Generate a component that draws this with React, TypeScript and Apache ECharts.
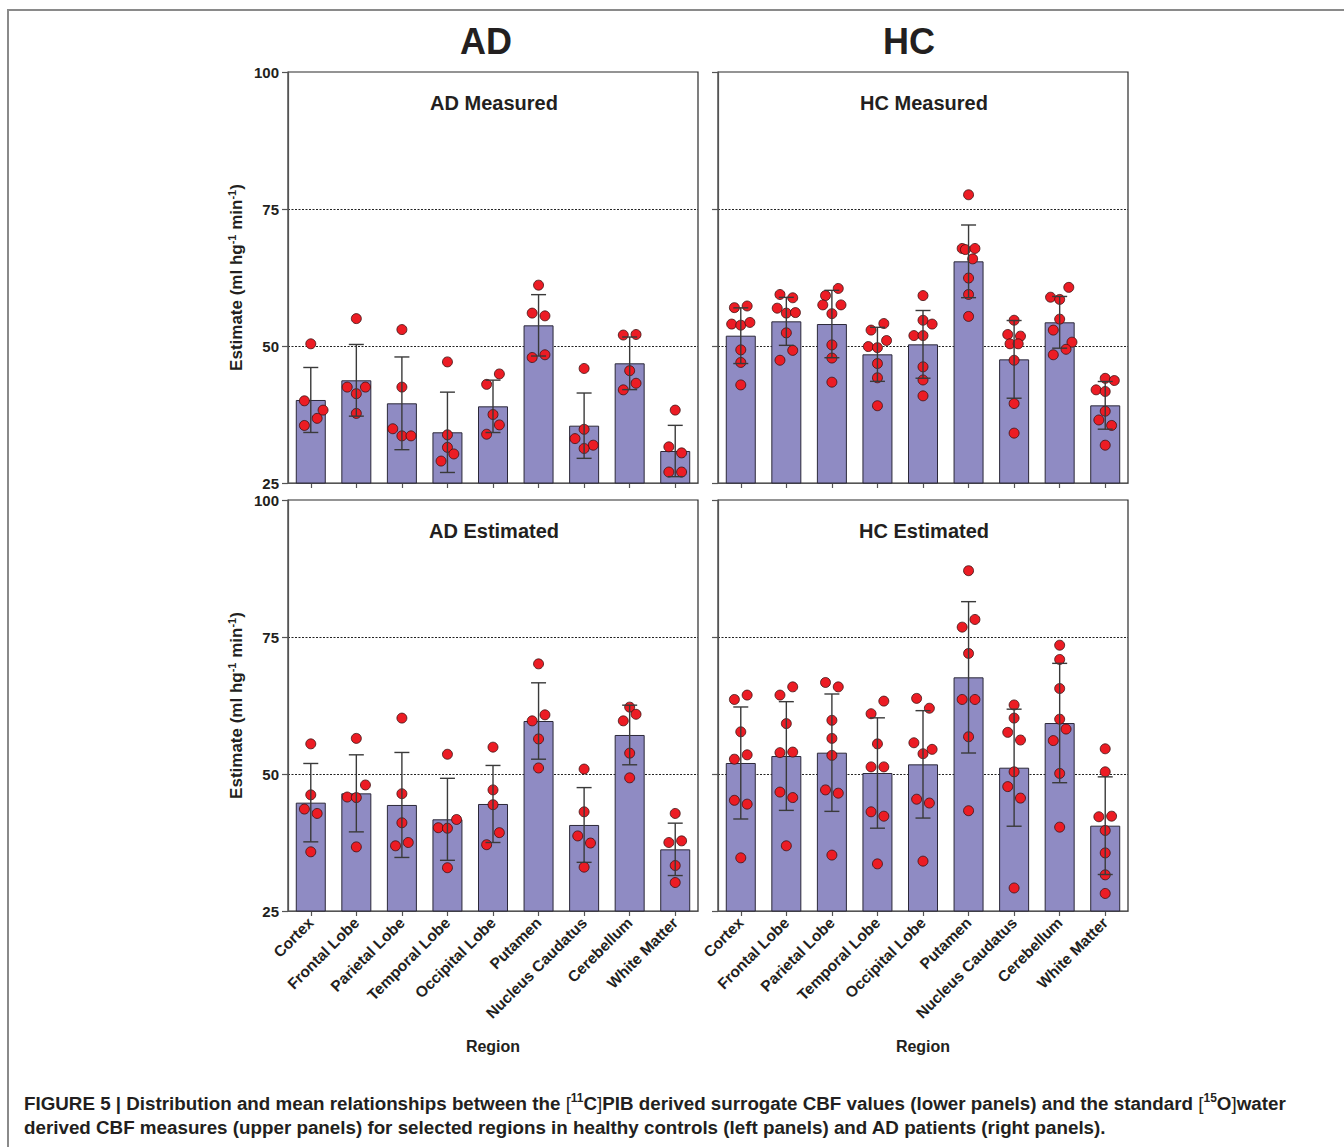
import React, { useEffect, useRef } from "react";
import * as echarts from "echarts";

// ---------- DATA ----------
const REGIONS = [
  "Cortex",
  "Frontal Lobe",
  "Parietal Lobe",
  "Temporal Lobe",
  "Occipital Lobe",
  "Putamen",
  "Nucleus Caudatus",
  "Cerebellum",
  "White Matter",
];
const Y_TICKS = [25, 50, 75, 100];

// AD Measured
const adMeasuredMean = [40.15, 43.74, 39.54, 34.25, 38.99, 53.77, 35.46, 46.84, 30.84];
const adMeasuredSD = [5.93, 6.54, 8.46, 7.33, 4.78, 5.6, 5.96, 4.8, 4.68];
const adMeasuredPoints = [
  [50.4, 40.0, 38.3, 36.8, 35.5],
  [55.0, 42.5, 42.5, 41.3, 37.7],
  [53.0, 42.5, 34.9, 33.6, 33.6],
  [47.1, 33.8, 31.5, 30.3, 29.0],
  [44.9, 43.0, 37.5, 35.6, 33.9],
  [61.1, 56.0, 55.5, 48.4, 47.9],
  [45.9, 34.8, 33.1, 31.9, 31.3],
  [52.0, 52.1, 45.5, 43.2, 42.0],
  [38.3, 31.6, 30.5, 27.0, 27.0],
];
const adMeasuredJitter = [
  [0, -0.14, 0.27, 0.14, -0.14],
  [0, -0.2, 0.2, 0, 0],
  [0, 0, -0.2, 0, 0.2],
  [0, 0, 0, 0.14, -0.14],
  [0.14, -0.14, 0, 0.14, -0.14],
  [0, -0.14, 0.14, 0.14, -0.14],
  [0, 0, -0.2, 0.2, 0],
  [-0.14, 0.14, 0, 0.14, -0.14],
  [0, -0.14, 0.14, -0.14, 0.14],
];

// HC Measured
const hcMeasuredMean = [51.88, 54.5, 54.01, 48.48, 50.3, 65.45, 47.56, 54.32, 39.17];
const hcMeasuredSD = [5.08, 4.38, 6.15, 4.93, 6.18, 6.63, 7.09, 4.72, 4.35];
const hcMeasuredPoints = [
  [57.0, 57.3, 54.0, 53.8, 54.3, 49.3, 47.0, 42.9],
  [59.4, 58.8, 56.9, 56.0, 56.1, 52.4, 49.2, 47.4],
  [60.5, 59.2, 57.5, 57.5, 55.9, 50.2, 47.8, 43.4],
  [54.1, 52.9, 51.0, 49.9, 49.7, 46.8, 44.2, 39.1],
  [59.2, 54.7, 54.0, 51.9, 51.9, 46.2, 43.8, 40.9],
  [77.6, 67.8, 67.6, 67.8, 65.9, 62.4, 59.4, 55.4],
  [54.7, 52.1, 51.8, 50.4, 50.4, 47.4, 39.5, 34.1],
  [60.7, 58.9, 58.5, 54.9, 52.9, 50.7, 49.4, 48.4],
  [44.1, 43.7, 42.0, 41.7, 38.1, 36.5, 35.5, 31.9],
];
const hcMeasuredJitter = [
  [-0.14, 0.14, -0.2, 0, 0.2, 0, 0, 0],
  [-0.14, 0.14, -0.2, 0, 0.2, 0, 0.14, -0.14],
  [0.14, -0.14, -0.2, 0.2, 0, 0, 0, 0],
  [0.14, -0.14, 0.2, -0.2, 0, 0, 0, 0],
  [0, 0, 0.2, -0.2, 0, 0, 0, 0],
  [0, -0.14, -0.07, 0.14, 0.09, 0, 0, 0],
  [0, -0.14, 0.14, -0.09, 0.09, 0, 0, 0],
  [0.2, -0.2, 0, 0, -0.14, 0.27, 0.14, -0.14],
  [0, 0.2, -0.2, 0, 0, -0.14, 0.14, 0],
];

// AD Estimated
const adEstimatedMean = [44.77, 46.47, 44.35, 41.73, 44.53, 59.67, 40.7, 57.12, 36.25];
const adEstimatedSD = [7.15, 7.03, 9.58, 7.48, 7.03, 6.97, 6.82, 5.44, 4.78];
const adEstimatedPoints = [
  [55.5, 46.2, 43.6, 42.8, 35.8],
  [56.5, 48.0, 45.8, 45.7, 36.7],
  [60.2, 46.4, 41.1, 37.5, 36.9],
  [53.6, 41.7, 40.2, 40.1, 32.9],
  [54.9, 47.1, 44.4, 39.3, 37.1],
  [70.1, 60.8, 59.7, 56.4, 51.1],
  [50.9, 43.1, 38.7, 37.4, 33.0],
  [62.2, 60.9, 59.7, 53.8, 49.3],
  [42.8, 37.8, 37.5, 33.3, 30.2],
];
const adEstimatedJitter = [
  [0, 0, -0.14, 0.14, 0],
  [0, 0.2, -0.2, 0, 0],
  [0, 0, 0, 0.14, -0.14],
  [0, 0.2, -0.2, 0, 0],
  [0, 0, 0, 0.14, -0.14],
  [0, 0.14, -0.14, 0, 0],
  [0, 0, -0.14, 0.14, 0],
  [0, 0.14, -0.14, 0, 0],
  [0, 0.14, -0.14, 0, 0],
];

// HC Estimated
const hcEstimatedMean = [52.01, 53.28, 53.89, 50.18, 51.76, 67.64, 51.15, 59.3, 40.57];
const hcEstimatedSD = [10.22, 9.92, 10.71, 10.07, 9.8, 13.81, 10.68, 10.89, 8.91];
const hcEstimatedPoints = [
  [63.6, 64.4, 57.7, 53.5, 52.7, 45.2, 44.5, 34.7],
  [64.4, 65.9, 59.2, 53.9, 54.0, 46.7, 45.7, 36.9],
  [66.7, 65.9, 59.8, 56.5, 53.4, 47.1, 46.5, 35.2],
  [63.3, 61.0, 55.5, 51.3, 51.3, 43.1, 42.3, 33.6],
  [63.8, 62.0, 55.7, 53.7, 54.5, 45.4, 44.7, 34.1],
  [87.1, 78.2, 76.8, 72.0, 63.6, 63.6, 56.8, 43.3],
  [62.6, 60.2, 57.6, 56.2, 50.4, 47.7, 45.6, 29.2],
  [73.5, 70.9, 65.6, 60.0, 58.2, 56.1, 50.1, 40.3],
  [54.6, 50.4, 42.2, 42.3, 39.7, 35.6, 31.6, 28.2],
];
const hcEstimatedJitter = [
  [-0.14, 0.14, 0, 0.14, -0.14, -0.14, 0.14, 0],
  [-0.14, 0.14, 0, -0.14, 0.14, -0.14, 0.14, 0],
  [-0.14, 0.14, 0, 0, 0, -0.14, 0.14, 0],
  [0.14, -0.14, 0, -0.14, 0.14, -0.14, 0.14, 0],
  [-0.14, 0.14, -0.2, 0, 0.2, -0.14, 0.14, 0],
  [0, 0.14, -0.14, 0, -0.14, 0.14, 0, 0],
  [0, 0, -0.14, 0.14, 0, -0.14, 0.14, 0],
  [0, 0, 0, 0, 0.14, -0.14, 0, 0],
  [0, 0, -0.14, 0.14, 0, 0, 0, 0],
];

const GROUP_TITLES = ["AD", "HC"];
const PANEL_TITLES = ["AD Measured", "HC Measured", "AD Estimated", "HC Estimated"];
const X_NAME = "Region";
const CAPTION_1 =
  "{b|FIGURE 5 | Distribution and mean relationships between the }{r|[}{s|11}{b|C}{r|]}{b|PIB derived surrogate CBF values (lower panels) and the standard }{r|[}{s|15}{b|O}{r|]}{b|water}";
const CAPTION_2 =
  "{b|derived CBF measures (upper panels) for selected regions in healthy controls (left panels) and AD patients (right panels).}";

// ---------- CHART ----------
const TXT = "#231f20";
const FONT = "'Liberation Sans', Arial, Helvetica, sans-serif";
const CAP_FONT = "'Liberation Sans Narrow', 'Arial Narrow', 'Liberation Sans', sans-serif";

const PANELS = [
  { mean: adMeasuredMean, sd: adMeasuredSD, pts: adMeasuredPoints, jit: adMeasuredJitter, left: 288, top: 72, yLabels: true, xLabels: false },
  { mean: hcMeasuredMean, sd: hcMeasuredSD, pts: hcMeasuredPoints, jit: hcMeasuredJitter, left: 718, top: 72, yLabels: false, xLabels: false },
  { mean: adEstimatedMean, sd: adEstimatedSD, pts: adEstimatedPoints, jit: adEstimatedJitter, left: 288, top: 500, yLabels: true, xLabels: true },
  { mean: hcEstimatedMean, sd: hcEstimatedSD, pts: hcEstimatedPoints, jit: hcEstimatedJitter, left: 718, top: 500, yLabels: false, xLabels: true },
];
const GW = 410;
const GH = 411;

function buildOption() {
  const grid: any[] = [];
  const xAxis: any[] = [];
  const yAxis: any[] = [];
  const series: any[] = [];
  const graphic: any[] = [];

  PANELS.forEach((p, i) => {
    grid.push({
      left: p.left,
      top: p.top,
      width: GW,
      height: GH,
      show: true,
      borderColor: "#2a2a2a",
      borderWidth: 1.2,
      backgroundColor: "transparent",
    });
    xAxis.push({
      type: "category",
      gridIndex: i,
      data: REGIONS,
      axisLine: { show: true, onZero: false, lineStyle: { color: "#555", width: 1.2 } },
      axisTick: { show: true, alignWithLabel: true, length: 5, lineStyle: { color: "#555", width: 1.2 } },
      axisLabel: {
        show: p.xLabels,
        interval: 0,
        rotate: 45,
        margin: 9,
        color: TXT,
        fontFamily: FONT,
        fontWeight: "bold",
        fontSize: 15.5,
      },
      splitLine: { show: false },
    });
    xAxis.push({
      type: "value",
      gridIndex: i,
      min: -0.5,
      max: REGIONS.length - 0.5,
      show: false,
      axisLine: { show: false, onZero: false },
      splitLine: { show: false },
    });
    yAxis.push({
      type: "value",
      gridIndex: i,
      min: Y_TICKS[0],
      max: Y_TICKS[Y_TICKS.length - 1],
      interval: Y_TICKS[1] - Y_TICKS[0],
      axisLine: { show: true, onZero: false, lineStyle: { color: "#555", width: 1.2 } },
      axisTick: { show: true, length: 6, lineStyle: { color: "#555", width: 1.2 } },
      axisLabel: {
        show: p.yLabels,
        margin: 9,
        color: TXT,
        fontFamily: FONT,
        fontWeight: "bold",
        fontSize: 15,
      },
      splitLine: {
        show: true,
        showMinLine: false,
        showMaxLine: false,
        lineStyle: { color: "#222", width: 1.2, type: [2, 1.5] },
      },
    });

    series.push({
      type: "bar",
      xAxisIndex: i * 2,
      yAxisIndex: i,
      data: p.mean,
      barWidth: 30,
      z: 2,
      itemStyle: { color: "#8f8bc3", borderColor: "#2b2838", borderWidth: 1 },
      silent: true,
    });

    const pts: number[][] = [];
    p.pts.forEach((vals, c) => {
      vals.forEach((v, k) => pts.push([c + p.jit[c][k], v]));
    });
    series.push({
      type: "scatter",
      xAxisIndex: i * 2 + 1,
      yAxisIndex: i,
      data: pts,
      symbolSize: 10,
      z: 3,
      itemStyle: { color: "#ec1c24", borderColor: "#3a1212", borderWidth: 0.8, opacity: 1 },
      silent: true,
    });

    series.push({
      type: "custom",
      xAxisIndex: i * 2,
      yAxisIndex: i,
      z: 4,
      silent: true,
      data: p.mean.map((m, c) => [c, m, p.sd[c]]),
      encode: { x: 0, y: 1 },
      renderItem: (params: any, api: any) => {
        const c = api.value(0);
        const m = api.value(1);
        const s = api.value(2);
        const t = api.coord([c, m + s]);
        const b = api.coord([c, m - s]);
        const hw = 7.5;
        const mk = () => ({ stroke: "#3a3a3a", lineWidth: 1.4 });
        return {
          type: "group",
          children: [
            { type: "line", shape: { x1: t[0], y1: t[1], x2: b[0], y2: b[1] }, style: mk() },
            { type: "line", shape: { x1: t[0] - hw, y1: t[1], x2: t[0] + hw, y2: t[1] }, style: mk() },
            { type: "line", shape: { x1: b[0] - hw, y1: b[1], x2: b[0] + hw, y2: b[1] }, style: mk() },
          ],
        };
      },
    });

    // panel title
    graphic.push({
      type: "text",
      x: p.left + GW / 2 + 1,
      y: p.top + 31,
      silent: true,
      style: {
        text: PANEL_TITLES[i],
        fill: TXT,
        font: `bold 20px ${FONT}`,
        textAlign: "center",
        textVerticalAlign: "middle",
      },
    });

    // y-axis name
    if (p.yLabels) {
      graphic.push({
        type: "text",
        x: 236,
        y: p.top + GH / 2,
        rotation: Math.PI / 2,
        silent: true,
        style: {
          text: "{b|Estimate (ml hg}{s|-1}{b| min}{s|-1}{b|)}",
          textAlign: "center",
          textVerticalAlign: "middle",
          rich: {
            b: { fontFamily: FONT, fontWeight: "bold", fontSize: 17, lineHeight: 20, fill: TXT, color: TXT },
            s: { fontFamily: FONT, fontWeight: "bold", fontSize: 11, lineHeight: 12, verticalAlign: "top", fill: TXT, color: TXT },
          },
        },
      });
    }
    if (p.xLabels) {
      graphic.push({
        type: "text",
        x: p.left + GW / 2,
        y: 1046,
        silent: true,
        style: {
          text: X_NAME,
          fill: TXT,
          font: `bold 16px ${FONT}`,
          textAlign: "center",
          textVerticalAlign: "middle",
        },
      });
    }
  });

  // group titles
  [486, 909].forEach((x, j) => {
    graphic.push({
      type: "text",
      x,
      y: 41,
      silent: true,
      style: {
        text: GROUP_TITLES[j],
        fill: TXT,
        font: `bold 36px ${FONT}`,
        textAlign: "center",
        textVerticalAlign: "middle",
      },
    });
  });

  // frame
  graphic.push({
    type: "polyline",
    silent: true,
    shape: { points: [[8, 1147], [8, 10], [1344, 10]] },
    style: { stroke: "#8a8a8a", lineWidth: 2, fill: null },
  });

  // caption
  const capRich = {
    b: { fontFamily: CAP_FONT, fontWeight: "bold", fontSize: 18.8, lineHeight: 22, fill: TXT, color: TXT },
    r: { fontFamily: CAP_FONT, fontWeight: "normal", fontSize: 18.8, lineHeight: 22, fill: TXT, color: TXT },
    s: { fontFamily: CAP_FONT, fontWeight: "bold", fontSize: 12, lineHeight: 12, verticalAlign: "top", fill: TXT, color: TXT },
  };
  [CAPTION_1, CAPTION_2].forEach((t, j) => {
    graphic.push({
      type: "text",
      x: 24,
      y: 1103 + j * 24,
      silent: true,
      style: { text: t, textAlign: "left", textVerticalAlign: "middle", rich: capRich },
    });
  });

  return {
    animation: false,
    backgroundColor: "#ffffff",
    grid,
    xAxis,
    yAxis,
    series,
    graphic,
  };
}

export default function App() {
  const ref = useRef<HTMLDivElement>(null);
  useEffect(() => {
    if (!ref.current) return;
    const chart = echarts.init(ref.current, undefined, { renderer: "svg" });
    chart.setOption(buildOption() as any);
    return () => chart.dispose();
  }, []);
  return (
    <div
      ref={ref}
      style={{ position: "absolute", left: 0, top: 0, width: 1344, height: 1147, background: "#fff" }}
    />
  );
}
